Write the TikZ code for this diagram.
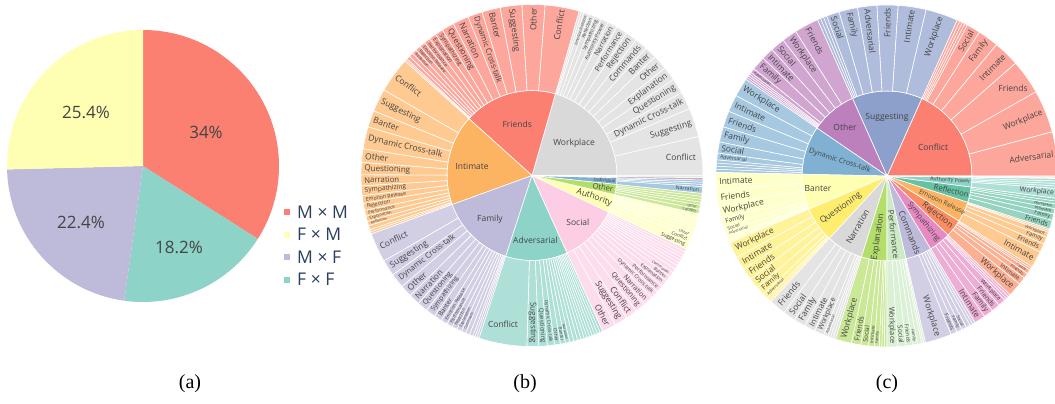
\documentclass[tikz,border=0pt]{standalone}
\usepackage{fontspec}
\newfontfamily\osf{Open Sans}
\newfontfamily\tmf{Liberation Serif}
\definecolor{txt}{HTML}{444444}
\definecolor{lgc}{HTML}{2A3F5F}
% pie
\definecolor{pR}{HTML}{FB8072}\definecolor{pY}{HTML}{FFFFB3}
\definecolor{pP}{HTML}{BEBADA}\definecolor{pT}{HTML}{8DD3C7}
% sunburst b
\definecolor{bWp}{HTML}{D9D9D9}\definecolor{bFr}{HTML}{FB8072}
\definecolor{bIn}{HTML}{FDB462}\definecolor{bFa}{HTML}{BEBADA}
\definecolor{bAd}{HTML}{8DD3C7}\definecolor{bSo}{HTML}{FCCDE5}
\definecolor{bAu}{HTML}{FFFFB3}\definecolor{bOt}{HTML}{B3DE69}
\definecolor{bId}{HTML}{80B1D3}\definecolor{bX1}{HTML}{BC80BD}
\definecolor{bX2}{HTML}{CCEBC5}
% sunburst c
\definecolor{cCo}{HTML}{FB8072}\definecolor{cSu}{HTML}{8DA0CB}
\definecolor{cOt}{HTML}{BC80BD}\definecolor{cDC}{HTML}{80B1D3}
\definecolor{cBa}{HTML}{FFFFB3}\definecolor{cQu}{HTML}{FFED6F}
\definecolor{cNa}{HTML}{D9D9D9}\definecolor{cEx}{HTML}{B3DE69}
\definecolor{cPe}{HTML}{CCEBC5}\definecolor{cCm}{HTML}{BEBADA}
\definecolor{cSy}{HTML}{E78AC3}\definecolor{cRj}{HTML}{FC8D62}
\definecolor{cEm}{HTML}{FDB462}\definecolor{cRf}{HTML}{66C2A5}
\definecolor{cAP}{HTML}{8DD3C7}\definecolor{cX1}{HTML}{FCCDE5}
\definecolor{cX2}{HTML}{E5C494}
\colorlet{bWpO}{bWp!70!white}\colorlet{bFrO}{bFr!70!white}
\colorlet{bInO}{bIn!70!white}\colorlet{bFaO}{bFa!70!white}
\colorlet{bAdO}{bAd!70!white}\colorlet{bSoO}{bSo!70!white}
\colorlet{bAuO}{bAu!70!white}\colorlet{bOtO}{bOt!70!white}
\colorlet{bIdO}{bId!70!white}\colorlet{bX1O}{bX1!70!white}
\colorlet{bX2O}{bX2!70!white}
\colorlet{cCoO}{cCo!70!white}\colorlet{cSuO}{cSu!70!white}
\colorlet{cOtO}{cOt!70!white}\colorlet{cDCO}{cDC!70!white}
\colorlet{cBaO}{cBa!70!white}\colorlet{cQuO}{cQu!70!white}
\colorlet{cNaO}{cNa!70!white}\colorlet{cExO}{cEx!70!white}
\colorlet{cPeO}{cPe!70!white}\colorlet{cCmO}{cCm!70!white}
\colorlet{cSyO}{cSy!70!white}\colorlet{cRjO}{cRj!70!white}
\colorlet{cEmO}{cEm!70!white}\colorlet{cRfO}{cRf!70!white}
\colorlet{cAPO}{cAP!70!white}\colorlet{cX1O}{cX1!70!white}
\colorlet{cX2O}{cX2!70!white}
\newcounter{lbc}
\newcommand\rIn{85}
\newcommand\rOut{171}
\newcommand\rLab{168}
\newcommand\lfont{\fontsize{8.5}{10}\selectfont\osf}
\tikzset{
  olab/.style={font=\lfont,text=txt,inner sep=0pt},
  ilab/.style={font=\lfont,text=txt,inner sep=0pt},
  plab/.style={font=\fontsize{17}{20}\selectfont\osf,text=txt,inner sep=0pt},
  lgd/.style={font=\fontsize{17.5}{20}\selectfont\osf,text=lgc,inner sep=0pt,anchor=west},
  captxt/.style={font=\fontsize{20}{24}\selectfont\tmf,text=black,inner sep=0pt},
  seg/.style={draw=white,line width=0.6pt}
}
% outer sector with auto radial label
\newcommand\OS[4]{%
  \fill[#3,seg] (#1:\rIn pt) -- (#1:\rOut pt) arc[start angle=#1,end angle=#2,radius=\rOut pt] -- (#2:\rIn pt) arc[start angle=#2,end angle=#1,radius=\rIn pt] -- cycle;
  \path node[olab] (tmpw) {\phantom{#4}};%
  \pgfpointdiff{\pgfpointanchor{tmpw}{west}}{\pgfpointanchor{tmpw}{east}}%
  \pgfgetlastxy\tmpx\tmpy
  \pgfmathsetmacro\lwv{max(\tmpx,1)}%
  \pgfmathsetmacro\am{(#1+#2)/2}%
  \pgfmathsetmacro\dth{(#2-#1)*0.0174533}%
  \pgfmathsetmacro\lsc{min(1,(\rOut-3)*\dth/(9.35+\lwv*\dth),(\rOut-\rIn-8)/\lwv)}%
  \pgfmathtruncatemacro\vis{\lsc>0.41}%
  \pgfmathtruncatemacro\lft{and(\am>90,\am<270)}%
  \ifnum\vis=1 \stepcounter{lbc}%
    \ifnum\lft=1 \pgfmathsetmacro\rot{\am-180}\def\anc{west}\else\let\rot\am\def\anc{east}\fi
    \node[olab,anchor=\anc,rotate=\rot,scale=\lsc] (ol\thelbc) at (\am:\rLab pt) {#4};%
  \fi}
% run of unlabeled slivers
\newcommand\SL[4]{%
  \pgfmathsetmacro\stp{(#2-#1)/#3}%
  \foreach \k in {1,...,#3}{%
    \pgfmathsetmacro\sA{#1+(\k-1)*\stp}\pgfmathsetmacro\sB{#1+\k*\stp}%
    \fill[#4,draw=white,line width=0.5pt] (\sA:\rIn pt) -- (\sA:\rOut pt) arc[start angle=\sA,end angle=\sB,radius=\rOut pt] -- (\sB:\rIn pt) arc[start angle=\sB,end angle=\sA,radius=\rIn pt] -- cycle;}}
% inner sector
\newcommand\IS[3]{\fill[#3,seg] (0,0) -- (#1:\rIn pt) arc[start angle=#1,end angle=#2,radius=\rIn pt] -- cycle;}
\begin{document}
\begin{tikzpicture}
\useasboundingbox (0,0) rectangle (1055pt,-404pt);
\fill[white] (0,0) rectangle (1055pt,-404pt);
%% ---------------- (a) pie ----------------
\begin{scope}[shift={(143pt,-166pt)}]
\fill[pR] (0,0) -- (90:136pt) arc[start angle=90,end angle=-32.4,radius=136pt] -- cycle;
\fill[pT] (0,0) -- (-32.4:136pt) arc[start angle=-32.4,end angle=-97.92,radius=136pt] -- cycle;
\fill[pP] (0,0) -- (-97.92:136pt) arc[start angle=-97.92,end angle=-178.56,radius=136pt] -- cycle;
\fill[pY] (0,0) -- (-178.56:136pt) arc[start angle=-178.56,end angle=-270,radius=136pt] -- cycle;
\end{scope}
\node[plab] (pMM) at (206pt,-132pt) {34\%};
\node[plab] (pFF) at (179pt,-247pt) {18.2\%};
\node[plab] (pMF) at (81pt,-222pt) {22.4\%};
\node[plab] (pFM) at (86pt,-112pt) {25.4\%};
\fill[pR] (284pt,-209.3pt) rectangle (290pt,-215.3pt);
\fill[pY] (284pt,-231.5pt) rectangle (290pt,-237.5pt);
\fill[pP] (284pt,-254pt) rectangle (290pt,-260pt);
\fill[pT] (284pt,-276.5pt) rectangle (290pt,-282.5pt);
\node[lgd] (lg1) at (297pt,-212.3pt) {M × M};
\node[lgd] (lg2) at (297pt,-234.5pt) {F × M};
\node[lgd] (lg3) at (297pt,-257pt) {M × F};
\node[lgd] (lg4) at (297pt,-279.5pt) {F × F};
%% ---------------- (b) sunburst ----------------
\begin{scope}[shift={(532pt,-175.5pt)}]
\IS{0}{74}{bWp}\IS{74}{138}{bFr}\IS{138}{200}{bIn}\IS{200}{252}{bFa}
\IS{252}{294.4}{bAd}\IS{294.4}{334.5}{bSo}\IS{334.5}{347}{bAu}
\IS{347}{354}{bOt}\IS{354}{358.5}{bId}\IS{358.5}{359.3}{bX1}\IS{359.3}{360}{bX2}
% Workplace
\SL{0}{13.2}{1}{bWpO}
\node[olab] (bWpConf) at (7:150pt) {Conflict};
\OS{13.2}{23}{bWpO}{Suggesting}
\OS{23}{29}{bWpO}{Dynamic Cross-talk}
\OS{29}{34.2}{bWpO}{Questioning}
\OS{34.2}{39}{bWpO}{Explanation}
\OS{39}{44}{bWpO}{Other}
\OS{44}{48.2}{bWpO}{Banter}
\OS{48.2}{52.5}{bWpO}{Commands}
\OS{52.5}{56.5}{bWpO}{Rejection}
\OS{56.5}{60.3}{bWpO}{Performance}
\OS{60.3}{63.6}{bWpO}{Narration}
\OS{63.6}{66.2}{bWpO}{Authority Power}
\OS{66.2}{68.6}{bWpO}{Sympathizing}
\OS{68.6}{70.6}{bWpO}{Reflection}
\OS{70.6}{72.4}{bWpO}{Emotion Release}
\SL{72.4}{74}{2}{bWpO}
% Friends
\OS{74}{85.6}{bFrO}{Conflict}
\OS{85.6}{93.4}{bFrO}{Other}
\OS{93.4}{100.8}{bFrO}{Suggesting}
\OS{100.8}{107}{bFrO}{Banter}
\OS{107}{112}{bFrO}{Dynamic Cross-talk}
\OS{112}{117.4}{bFrO}{Narration}
\OS{117.4}{121.6}{bFrO}{Questioning}
\OS{121.6}{124.4}{bFrO}{Sympathizing}
\OS{124.4}{126.8}{bFrO}{Explanation}
\OS{126.8}{129}{bFrO}{Performance}
\OS{129}{131}{bFrO}{Emotion Release}
\OS{131}{132.8}{bFrO}{Rejection}
\OS{132.8}{134.4}{bFrO}{Reflection}
\OS{134.4}{135.8}{bFrO}{Commands}
\OS{135.8}{137}{bFrO}{Authority Power}
\SL{137}{138}{2}{bFrO}
% Intimate
\OS{138}{150}{bInO}{Conflict}
\OS{150}{157.8}{bInO}{Suggesting}
\OS{157.8}{163.5}{bInO}{Banter}
\OS{163.5}{171}{bInO}{Dynamic Cross-talk}
\OS{171}{175.6}{bInO}{Other}
\OS{175.6}{179.8}{bInO}{Questioning}
\OS{179.8}{183.5}{bInO}{Narration}
\OS{183.5}{186.8}{bInO}{Sympathizing}
\OS{186.8}{189.4}{bInO}{Emotion Release}
\OS{189.4}{191.8}{bInO}{Rejection}
\OS{191.8}{193.8}{bInO}{Performance}
\OS{193.8}{195.6}{bInO}{Explanation}
\OS{195.6}{197.1}{bInO}{Reflection}
\OS{197.1}{198.5}{bInO}{Commands}
\SL{198.5}{200}{2}{bInO}
% Family
\OS{200}{210}{bFaO}{Conflict}
\OS{210}{215.5}{bFaO}{Suggesting}
\OS{215.5}{220.5}{bFaO}{Dynamic Cross-talk}
\OS{220.5}{224.6}{bFaO}{Other}
\OS{224.6}{228.4}{bFaO}{Narration}
\OS{228.4}{232}{bFaO}{Questioning}
\OS{232}{235.3}{bFaO}{Sympathizing}
\OS{235.3}{238}{bFaO}{Banter}
\OS{238}{240.2}{bFaO}{Emotion Release}
\OS{240.2}{242.2}{bFaO}{Performance}
\OS{242.2}{244}{bFaO}{Rejection}
\OS{244}{245.7}{bFaO}{Explanation}
\OS{245.7}{247.2}{bFaO}{Commands}
\OS{247.2}{248.6}{bFaO}{Reflection}
\OS{248.6}{249.8}{bFaO}{Authority Power}
\SL{249.8}{252}{3}{bFaO}
% Adversarial
\SL{252}{268.3}{1}{bAdO}
\node[olab] (bAdvConf) at (259:152pt) {Conflict};
\OS{268.3}{272.3}{bAdO}{Suggesting}
\OS{272.3}{275.2}{bAdO}{Questioning}
\OS{275.2}{277.6}{bAdO}{Dynamic Cross-talk}
\OS{277.6}{279.6}{bAdO}{Other}
\OS{279.6}{281.3}{bAdO}{Banter}
\OS{281.3}{282.8}{bAdO}{Narration}
\OS{282.8}{284.2}{bAdO}{Rejection}
\OS{284.2}{285.5}{bAdO}{Commands}
\OS{285.5}{286.7}{bAdO}{Performance}
\OS{286.7}{287.8}{bAdO}{Explanation}
\SL{287.8}{294.4}{7}{bAdO}
% Social
\OS{294.4}{299.2}{bSoO}{Other}
\OS{299.2}{303.6}{bSoO}{Suggesting}
\OS{303.6}{307.6}{bSoO}{Conflict}
\OS{307.6}{311.2}{bSoO}{Questioning}
\OS{311.2}{314.4}{bSoO}{Narration}
\OS{314.4}{317.2}{bSoO}{Dynamic Cross-talk}
\OS{317.2}{319.7}{bSoO}{Performance}
\OS{319.7}{321.9}{bSoO}{Explanation}
\OS{321.9}{323.8}{bSoO}{Banter}
\OS{323.8}{325.4}{bSoO}{Commands}
\OS{325.4}{326.9}{bSoO}{Emotion Release}
\OS{326.9}{328.2}{bSoO}{Rejection}
\SL{328.2}{334.5}{6}{bSoO}
% Authority
\OS{334.5}{336.8}{bAuO}{Suggesting}
\OS{336.8}{338.8}{bAuO}{Conflict}
\OS{338.8}{340.4}{bAuO}{Other}
\OS{340.4}{341.8}{bAuO}{Questioning}
\SL{341.8}{347}{5}{bAuO}
% Other
\OS{347}{348.6}{bOtO}{Conflict}
\OS{348.6}{350}{bOtO}{Other}
\SL{350}{354}{4}{bOtO}
% Individual
\OS{354}{356.3}{bIdO}{Narration}
\SL{356.3}{358.5}{3}{bIdO}
\SL{358.5}{359.3}{1}{bX1O}
\SL{359.3}{360}{1}{bX2O}
% inner labels
\node[ilab] (bFri) at (106:53.6pt) {Friends};
\node[ilab] (bWor) at (37:52.7pt) {Workplace};
\node[ilab] (bInt) at (171:60.6pt) {Intimate};
\node[ilab] (bFam) at (226:60.5pt) {Family};
\node[ilab] (bAdv) at (273:64.6pt) {Adversarial};
\node[ilab] (bSoc) at (314.5:65.4pt) {Social};
\node[ilab,rotate=-19.3] (bAut) at (340.7:66pt) {Authority};
\node[ilab,rotate=-9.5,scale=0.9] (bOth) at (350.5:72pt) {Other};
\node[ilab,rotate=-3.7,scale=0.55] (bInd) at (356.3:73pt) {Individual};
\end{scope}
%% ---------------- (c) sunburst ----------------
\begin{scope}[shift={(887pt,-176pt)}]
\IS{0}{65.8}{cCo}\IS{65.8}{114}{cSu}\IS{114}{145.6}{cOt}\IS{145.6}{178.8}{cDC}
\IS{178.8}{203}{cBa}\IS{203}{227.3}{cQu}\IS{227.3}{252.5}{cNa}\IS{252.5}{270}{cEx}
\IS{270}{283}{cPe}\IS{283}{301}{cCm}\IS{301}{316}{cSy}\IS{316}{328}{cRj}
\IS{328}{342}{cEm}\IS{342}{352.5}{cRf}\IS{352.5}{359.2}{cAP}\IS{359.2}{359.6}{cX1}\IS{359.6}{360}{cX2}
% Conflict
\OS{0}{15}{cCoO}{Adversarial}
\OS{15}{29.5}{cCoO}{Workplace}
\SL{29.5}{41.3}{1}{cCoO}
\node[olab] (cConfFr) at (34.9:153.7pt) {Friends};
\OS{41.3}{50.2}{cCoO}{Intimate}
\OS{50.2}{57.3}{cCoO}{Family}
\OS{57.3}{62}{cCoO}{Social}
\SL{62}{65.8}{4}{cCoO}
% Suggesting
\OS{65.8}{76.8}{cSuO}{Workplace}
\OS{76.8}{86.3}{cSuO}{Intimate}
\OS{86.3}{93.4}{cSuO}{Friends}
\OS{93.4}{100}{cSuO}{Adversarial}
\OS{100}{106.3}{cSuO}{Family}
\OS{106.3}{110.7}{cSuO}{Social}
\SL{110.7}{114}{3}{cSuO}
% Other
\OS{114}{122.3}{cOtO}{Friends}
\OS{122.3}{127.4}{cOtO}{Workplace}
\OS{127.4}{132.3}{cOtO}{Social}
\OS{132.3}{136.5}{cOtO}{Intimate}
\OS{136.5}{141.2}{cOtO}{Family}
\OS{141.2}{142.8}{cOtO}{Adversarial}
\SL{142.8}{145.6}{4}{cOtO}
% Dynamic Cross-talk
\OS{145.6}{152}{cDCO}{Workplace}
\OS{152}{157.8}{cDCO}{Intimate}
\OS{157.8}{163.3}{cDCO}{Friends}
\OS{163.3}{168.5}{cDCO}{Family}
\OS{168.5}{172.3}{cDCO}{Social}
\OS{172.3}{174.6}{cDCO}{Adversarial}
\SL{174.6}{178.8}{4}{cDCO}
% Banter
\OS{178.8}{184.8}{cBaO}{Intimate}
\OS{184.8}{190}{cBaO}{Friends}
\OS{190}{194.5}{cBaO}{Workplace}
\OS{194.5}{197.3}{cBaO}{Family}
\OS{197.3}{199.2}{cBaO}{Social}
\OS{199.2}{200.8}{cBaO}{Adversarial}
\SL{200.8}{203}{3}{cBaO}
% Questioning
\OS{203}{208.5}{cQuO}{Workplace}
\OS{208.5}{213}{cQuO}{Intimate}
\OS{213}{217}{cQuO}{Friends}
\OS{217}{220.7}{cQuO}{Social}
\OS{220.7}{223.8}{cQuO}{Family}
\OS{223.8}{225.6}{cQuO}{Adversarial}
\SL{225.6}{227.3}{2}{cQuO}
% Narration
\OS{227.3}{233}{cNaO}{Friends}
\OS{233}{237.3}{cNaO}{Social}
\OS{237.3}{241.3}{cNaO}{Family}
\OS{241.3}{245}{cNaO}{Intimate}
\OS{245}{248.3}{cNaO}{Workplace}
\OS{248.3}{249.8}{cNaO}{Adversarial}
\SL{249.8}{252.5}{3}{cNaO}
% Explanation
\OS{252.5}{258}{cExO}{Workplace}
\OS{258}{261.2}{cExO}{Friends}
\OS{261.2}{263.8}{cExO}{Social}
\OS{263.8}{265.7}{cExO}{Intimate}
\OS{265.7}{267.4}{cExO}{Family}
\SL{267.4}{270}{3}{cExO}
% Performance
\OS{270}{273.6}{cPeO}{Workplace}
\OS{273.6}{276.4}{cPeO}{Social}
\OS{276.4}{278.6}{cPeO}{Friends}
\OS{278.6}{280.3}{cPeO}{Family}
\OS{280.3}{281.7}{cPeO}{Intimate}
\SL{281.7}{283}{2}{cPeO}
% Commands
\OS{283}{292}{cCmO}{Workplace}
\OS{292}{294.2}{cCmO}{Friends}
\OS{294.2}{296}{cCmO}{Family}
\OS{296}{297.7}{cCmO}{Social}
\OS{297.7}{299.1}{cCmO}{Intimate}
\SL{299.1}{301}{2}{cCmO}
% Sympathizing
\OS{301}{304.8}{cSyO}{Intimate}
\OS{304.8}{308}{cSyO}{Family}
\OS{308}{311}{cSyO}{Friends}
\OS{311}{313.5}{cSyO}{Workplace}
\SL{313.5}{316}{3}{cSyO}
% Rejection
\OS{316}{320.8}{cRjO}{Workplace}
\OS{320.8}{323.4}{cRjO}{Intimate}
\OS{323.4}{325.2}{cRjO}{Friends}
\OS{325.2}{326.6}{cRjO}{Family}
\SL{326.6}{328}{2}{cRjO}
% Emotion Release
\OS{328}{333.6}{cEmO}{Intimate}
\OS{333.6}{336.6}{cEmO}{Friends}
\OS{336.6}{339}{cEmO}{Family}
\OS{339}{340.8}{cEmO}{Workplace}
\SL{340.8}{342}{2}{cEmO}
% Reflection
\OS{342}{345}{cRfO}{Friends}
\OS{345}{347.2}{cRfO}{Family}
\OS{347.2}{349}{cRfO}{Intimate}
\OS{349}{350.6}{cRfO}{Workplace}
\SL{350.6}{352.5}{2}{cRfO}
% Authority Power
\OS{352.5}{355.8}{cAPO}{Workplace}
\SL{355.8}{359.2}{4}{cAPO}
\SL{359.2}{359.6}{1}{cX1O}
\SL{359.6}{360}{1}{cX2O}
% inner labels
\node[ilab] (cConf) at (32.2:54.4pt) {Conflict};
\node[ilab] (cSugg) at (90:59pt) {Suggesting};
\node[ilab] (cOth) at (130.6:64.5pt) {Other};
\node[ilab,rotate=-17.8,scale=0.85] (cDCT) at (162.2:49.6pt) {Dynamic Cross-talk};
\node[ilab] (cBan) at (189.9:70pt) {Banter};
\node[ilab,rotate=35] (cQue) at (215:56.4pt) {Questioning};
\node[ilab,rotate=60] (cNar) at (240:58.7pt) {Narration};
\node[ilab,rotate=81.5] (cExp) at (261.5:61.4pt) {Explanation};
\node[ilab,rotate=-83.5,scale=0.95] (cPer) at (276.5:59pt) {Performance};
\node[ilab,rotate=-68] (cCom) at (292:61pt) {Commands};
\node[ilab,rotate=-51.5,scale=0.9] (cSym) at (308.5:59pt) {Sympathizing};
\node[ilab,rotate=-38] (cRej) at (322:64pt) {Rejection};
\node[ilab,rotate=-25,scale=0.76] (cEmo) at (335:61pt) {Emotion Release};
\node[ilab,rotate=-12.7,scale=0.9] (cRef) at (347.3:66pt) {Reflection};
\node[ilab,rotate=-4.1,scale=0.63] (cAut) at (355.9:63.4pt) {Authority Power};
\end{scope}
%% captions
\node[captxt] (capa) at (190pt,-384pt) {(a)};
\node[captxt] (capb) at (525pt,-384pt) {(b)};
\node[captxt] (capc) at (887pt,-384pt) {(c)};
\end{tikzpicture}
\end{document}
